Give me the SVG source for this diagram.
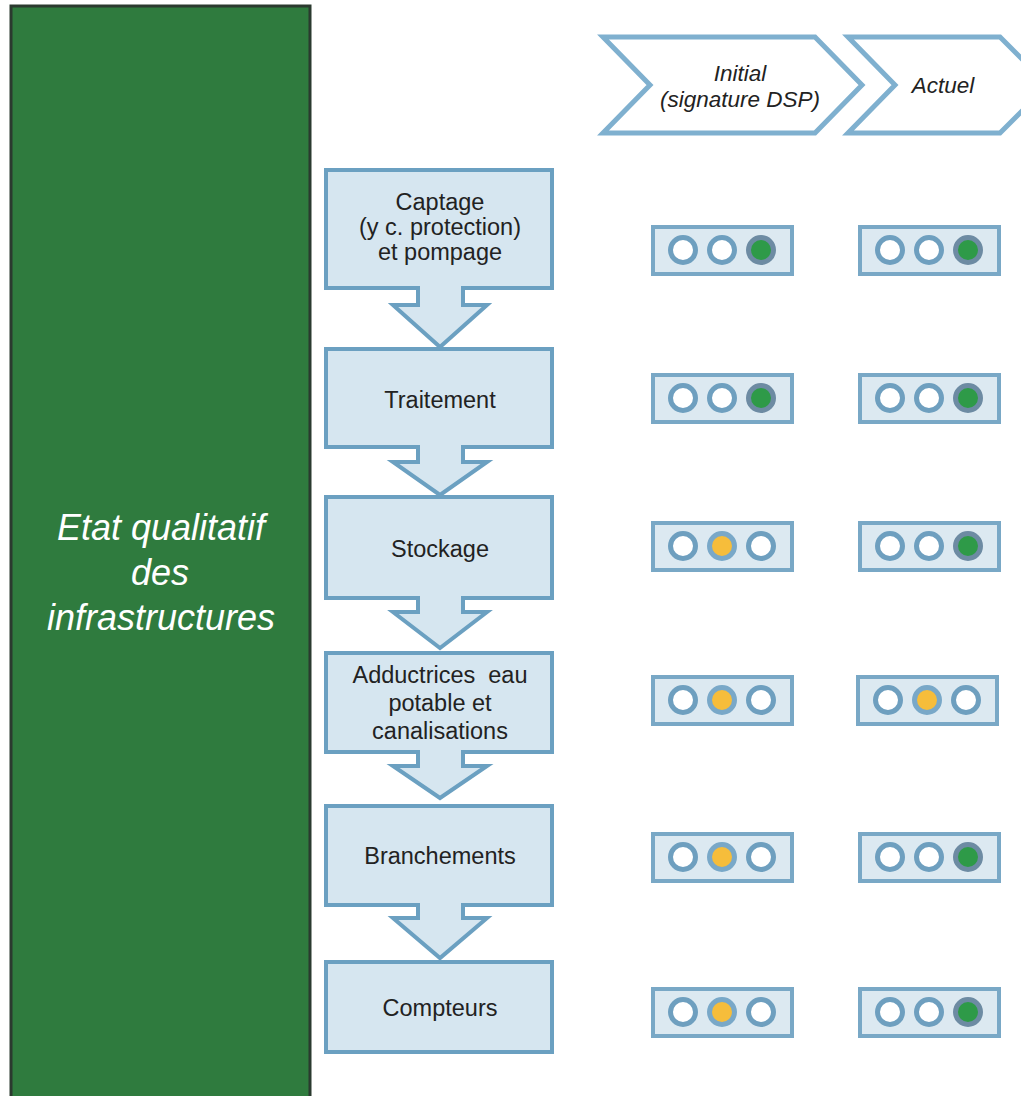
<svg xmlns="http://www.w3.org/2000/svg" width="1021" height="1096" viewBox="0 0 1021 1096">
<style>
.box{fill:#d6e6f0;stroke:#6ba0c1;stroke-width:4}
.arr{fill:#d6e6f0;stroke:#6ba0c1;stroke-width:4;stroke-linejoin:miter}
.lbl{font-family:"Liberation Sans",Arial,sans-serif;font-size:23.5px;fill:#222;text-anchor:middle}
.hdr{font-family:"Liberation Sans",Arial,sans-serif;font-size:22.5px;font-style:italic;fill:#222;text-anchor:middle}
.chev{fill:#fff;stroke:#7fb0cf;stroke-width:5;stroke-linejoin:miter}
.tl{fill:#dce9f1;stroke:#79a8c6;stroke-width:4}
.off{fill:#fff;stroke:#6e9fbf;stroke-width:5}
.g{fill:#2e9a48;stroke:#6d8ba3;stroke-width:5}
.y{fill:#f6bd3b;stroke:#79a8c8;stroke-width:5}
.side{font-family:"Liberation Sans",Arial,sans-serif;font-size:36px;font-style:italic;fill:#fff;text-anchor:middle}
</style>
<rect width="1021" height="1096" fill="#fff"/>
<g id="panel">
<rect x="11" y="6" width="299" height="1095" fill="#2f7b3e" stroke="#2b3a2f" stroke-width="3"/>
<text class="side" x="161" y="540">Etat qualitatif</text>
<text class="side" x="160" y="585">des</text>
<text class="side" x="161" y="630">infrastructures</text>
</g>
<g id="header-initial">
<polygon class="chev" points="603,37 815,37 862,85 815,133 603,133 650,85"/>
<text class="hdr" x="740" y="81">Initial</text>
<text class="hdr" x="740" y="107">(signature DSP)</text>
</g>
<g id="header-actuel">
<polygon class="chev" points="848,37 1000,37 1048,85 1000,133 848,133 895,85"/>
<text class="hdr" x="943" y="93">Actuel</text>
</g>
<g id="captage">
<rect class="box" x="326" y="170" width="226" height="118"/>
<text class="lbl" x="440" y="210">Captage</text>
<text class="lbl" x="440" y="235">(y c. protection)</text>
<text class="lbl" x="440" y="260">et pompage</text>
</g>
<g id="traitement">
<rect class="box" x="326" y="349" width="226" height="98"/>
<text class="lbl" x="440" y="408">Traitement</text>
</g>
<g id="stockage">
<rect class="box" x="326" y="497" width="226" height="101"/>
<text class="lbl" x="440" y="557">Stockage</text>
</g>
<g id="adductrices">
<rect class="box" x="326" y="653" width="226" height="99"/>
<text class="lbl" x="440" y="683" xml:space="preserve">Adductrices  eau</text>
<text class="lbl" x="440" y="711">potable et</text>
<text class="lbl" x="440" y="739">canalisations</text>
</g>
<g id="branchements">
<rect class="box" x="326" y="806" width="226" height="99"/>
<text class="lbl" x="440" y="864">Branchements</text>
</g>
<g id="compteurs">
<rect class="box" x="326" y="962" width="226" height="90"/>
<text class="lbl" x="440" y="1016">Compteurs</text>
</g>
<g id="connectors">
<path class="arr" d="M418,286 L418,305 L393,305 L440,347 L487,305 L463,305 L463,286"/>
<path class="arr" d="M418,445 L418,462 L393,462 L440,495 L487,462 L463,462 L463,445"/>
<path class="arr" d="M418,596 L418,612 L393,612 L440,648 L487,612 L463,612 L463,596"/>
<path class="arr" d="M418,750 L418,766 L393,766 L440,798 L487,766 L463,766 L463,750"/>
<path class="arr" d="M418,903 L418,918 L393,918 L440,958 L487,918 L463,918 L463,903"/>
</g>
<defs>
<g id="lbox"><rect class="tl" x="0" y="-23" width="139" height="47"/></g>
</defs>
<g id="lights-captage">
<use href="#lbox" x="653" y="250"/><circle class="off" cx="683" cy="250" r="12.5"/><circle class="off" cx="722" cy="250" r="12.5"/><circle class="g" cx="761" cy="250" r="12.5"/>
<use href="#lbox" x="860" y="250"/><circle class="off" cx="890" cy="250" r="12.5"/><circle class="off" cx="929" cy="250" r="12.5"/><circle class="g" cx="968" cy="250" r="12.5"/>
</g>
<g id="lights-traitement">
<use href="#lbox" x="653" y="398"/><circle class="off" cx="683" cy="398" r="12.5"/><circle class="off" cx="722" cy="398" r="12.5"/><circle class="g" cx="761" cy="398" r="12.5"/>
<use href="#lbox" x="860" y="398"/><circle class="off" cx="890" cy="398" r="12.5"/><circle class="off" cx="929" cy="398" r="12.5"/><circle class="g" cx="968" cy="398" r="12.5"/>
</g>
<g id="lights-stockage">
<use href="#lbox" x="653" y="546"/><circle class="off" cx="683" cy="546" r="12.5"/><circle class="y" cx="722" cy="546" r="12.5"/><circle class="off" cx="761" cy="546" r="12.5"/>
<use href="#lbox" x="860" y="546"/><circle class="off" cx="890" cy="546" r="12.5"/><circle class="off" cx="929" cy="546" r="12.5"/><circle class="g" cx="968" cy="546" r="12.5"/>
</g>
<g id="lights-adductrices">
<use href="#lbox" x="653" y="700"/><circle class="off" cx="683" cy="700" r="12.5"/><circle class="y" cx="722" cy="700" r="12.5"/><circle class="off" cx="761" cy="700" r="12.5"/>
<use href="#lbox" x="858" y="700"/><circle class="off" cx="888" cy="700" r="12.5"/><circle class="y" cx="927" cy="700" r="12.5"/><circle class="off" cx="966" cy="700" r="12.5"/>
</g>
<g id="lights-branchements">
<use href="#lbox" x="653" y="857"/><circle class="off" cx="683" cy="857" r="12.5"/><circle class="y" cx="722" cy="857" r="12.5"/><circle class="off" cx="761" cy="857" r="12.5"/>
<use href="#lbox" x="860" y="857"/><circle class="off" cx="890" cy="857" r="12.5"/><circle class="off" cx="929" cy="857" r="12.5"/><circle class="g" cx="968" cy="857" r="12.5"/>
</g>
<g id="lights-compteurs">
<use href="#lbox" x="653" y="1012"/><circle class="off" cx="683" cy="1012" r="12.5"/><circle class="y" cx="722" cy="1012" r="12.5"/><circle class="off" cx="761" cy="1012" r="12.5"/>
<use href="#lbox" x="860" y="1012"/><circle class="off" cx="890" cy="1012" r="12.5"/><circle class="off" cx="929" cy="1012" r="12.5"/><circle class="g" cx="968" cy="1012" r="12.5"/>
</g>
</svg>
